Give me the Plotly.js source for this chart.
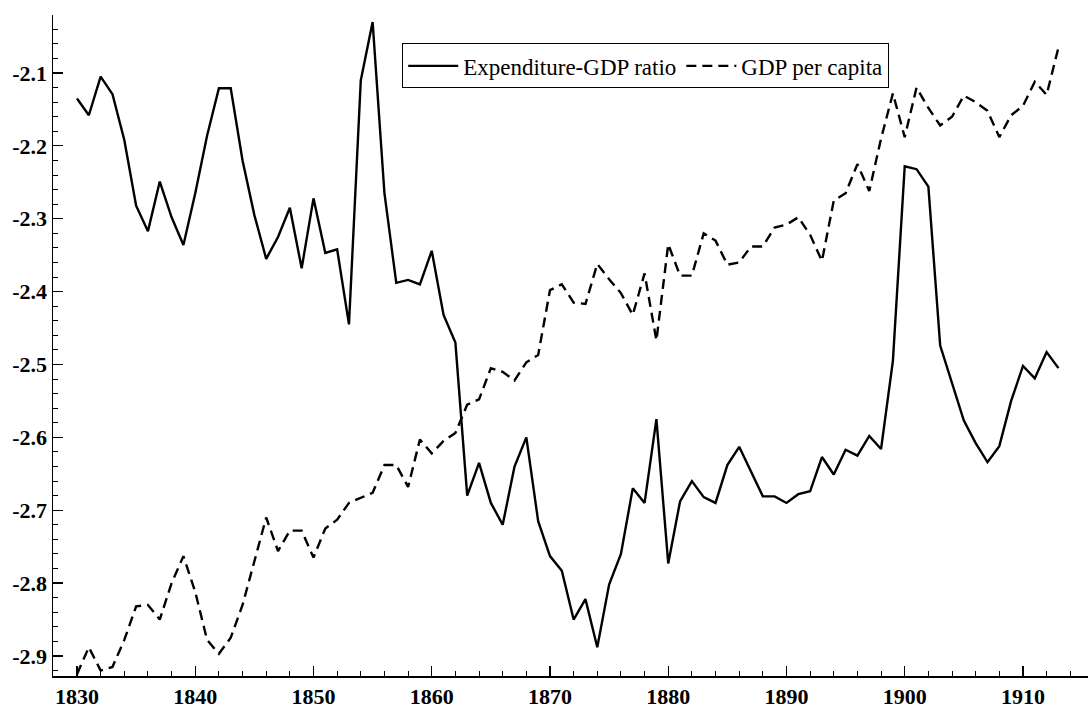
<!DOCTYPE html>
<html>
<head>
<meta charset="utf-8">
<script src="https://cdn.plot.ly/plotly-3.0.1.min.js"></script>
<style>html,body{margin:0;padding:0;background:#fff}#chart{width:1088px;height:711px}</style>
</head>
<body>
<div id="chart"></div>
<script>
const years = [];
for (let y = 1830; y <= 1913; y++) years.push(y);

const expenditureGdpRatio = [
  -2.135, -2.158, -2.105, -2.129, -2.192, -2.282, -2.317, -2.249, -2.298, -2.336,
  -2.265, -2.186, -2.121, -2.121, -2.220, -2.295, -2.355, -2.325, -2.285, -2.368,
  -2.272, -2.347, -2.342, -2.445, -2.110, -2.030, -2.265, -2.388, -2.384, -2.390,
  -2.344, -2.432, -2.470, -2.680, -2.635, -2.690, -2.720, -2.640, -2.600, -2.715,
  -2.763, -2.783, -2.850, -2.822, -2.888, -2.802, -2.760, -2.670, -2.690, -2.575,
  -2.773, -2.688, -2.660, -2.682, -2.690, -2.638, -2.613, -2.647, -2.681, -2.681,
  -2.690, -2.678, -2.674, -2.627, -2.651, -2.617, -2.625, -2.598, -2.616, -2.495,
  -2.228, -2.232, -2.256, -2.474, -2.525, -2.577, -2.608, -2.634, -2.612, -2.550,
  -2.502, -2.519, -2.483, -2.505
];

const gdpPerCapita = [
  -2.925, -2.888, -2.920, -2.915, -2.878, -2.832, -2.830, -2.850, -2.800, -2.763,
  -2.812, -2.878, -2.897, -2.875, -2.830, -2.770, -2.710, -2.756, -2.728, -2.728,
  -2.765, -2.725, -2.713, -2.690, -2.683, -2.676, -2.638, -2.638, -2.668, -2.603,
  -2.622, -2.605, -2.594, -2.555, -2.548, -2.505, -2.510, -2.522, -2.497, -2.487,
  -2.398, -2.390, -2.415, -2.417, -2.362, -2.383, -2.402, -2.432, -2.375, -2.467,
  -2.335, -2.378, -2.378, -2.320, -2.330, -2.363, -2.360, -2.338, -2.338, -2.312,
  -2.308, -2.298, -2.322, -2.358, -2.275, -2.265, -2.225, -2.262, -2.190, -2.128,
  -2.188, -2.120, -2.148, -2.172, -2.160, -2.131, -2.140, -2.152, -2.188, -2.158,
  -2.145, -2.112, -2.130, -2.065
];

const seriesNames = ["Expenditure-GDP ratio", "GDP per capita"];
const xTickVals = [1830, 1840, 1850, 1860, 1870, 1880, 1890, 1900, 1910];
const xTickText = ["1830", "1840", "1850", "1860", "1870", "1880", "1890", "1900", "1910"];
const yTickVals = [-2.1, -2.2, -2.3, -2.4, -2.5, -2.6, -2.7, -2.8, -2.9];
const yTickText = ["-2.1", "-2.2", "-2.3", "-2.4", "-2.5", "-2.6", "-2.7", "-2.8", "-2.9"];

const FONT = "Liberation Serif";
const bold = s => "<b>" + s + "</b>";

const traces = [
  {
    x: years, y: expenditureGdpRatio, name: seriesNames[0],
    type: "scatter", mode: "lines",
    line: {color: "#000", width: 2.4}
  },
  {
    x: years, y: gdpPerCapita, name: seriesNames[1],
    type: "scatter", mode: "lines",
    line: {color: "#000", width: 2.4, dash: "10px,6px"}
  }
];

const layout = {
  width: 1088, height: 711,
  margin: {l: 53, r: 0, t: 15, b: 35, pad: 0},
  paper_bgcolor: "#fff", plot_bgcolor: "#fff",
  font: {family: FONT, color: "#000", size: 18},
  showlegend: true,
  legend: {
    orientation: "h", x: 0.3374, y: 0.957, xanchor: "left", yanchor: "top",
    bordercolor: "#000", borderwidth: 1, bgcolor: "#fff",
    font: {family: FONT, size: 23, color: "#000"},
    itemwidth: 50, tracegroupgap: 0
  },
  xaxis: {
    range: [1827.97, 1915.5],
    showgrid: false, zeroline: false,
    showline: true, linecolor: "#000", linewidth: 1.5,
    ticks: "inside", ticklen: 10, tickwidth: 1.2, tickcolor: "#000",
    tickvals: xTickVals, ticktext: xTickText.map(bold),
    tickfont: {family: FONT, size: 22, color: "#000"},
    minor: {ticks: "inside", ticklen: 5, tickwidth: 1, tickcolor: "#000", dtick: 2, tick0: 1830, showgrid: false}
  },
  yaxis: {
    range: [-2.9275, -2.0204],
    showgrid: false, zeroline: false,
    showline: true, linecolor: "#000", linewidth: 1.5,
    ticks: "inside", ticklen: 10, tickwidth: 1.2, tickcolor: "#000",
    tickvals: yTickVals, ticktext: yTickText.map(bold),
    tickfont: {family: FONT, size: 22, color: "#000"},
    minor: {ticks: "inside", ticklen: 5, tickwidth: 1, tickcolor: "#000", dtick: 0.02, tick0: -2.9, showgrid: false}
  }
};

Plotly.newPlot("chart", traces, layout, {displayModeBar: false, staticPlot: true});
</script>
</body>
</html>
